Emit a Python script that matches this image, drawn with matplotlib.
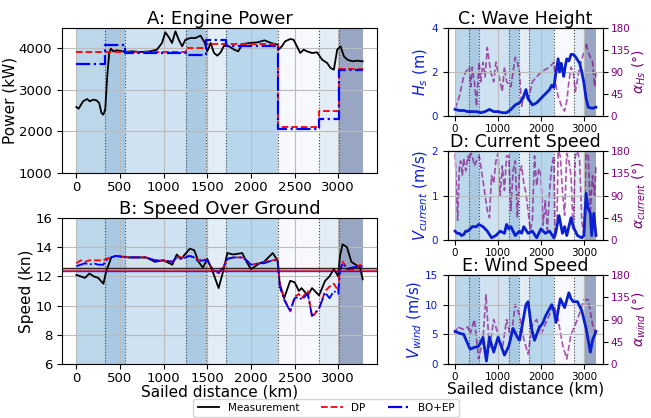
import matplotlib
matplotlib.use("Agg")
import matplotlib.pyplot as plt
import numpy as np

# Leg boundaries (km) and background shade per leg
bounds = [0, 325, 555, 1255, 1490, 1715, 2305, 2775, 3005, 3280]
leg_colors = ["#bcd6ea", "#a9c9e2", "#cfe2f1", "#aacbe3", "#e3edf7",
              "#b9d7ec", "#f8f9fe", "#e3edf6", "#98a6c3"]

# Engine power (kW)
pow_x = [0, 27, 77, 123, 154, 192, 231, 262, 288, 308, 331, 354, 377, 396, 423, 462,
         560, 654, 731, 846, 923, 981, 1019, 1058, 1096, 1135, 1173, 1212, 1250, 1308,
         1365, 1423, 1469, 1500, 1538, 1577, 1615, 1654, 1692, 1750, 1808, 1854, 1904,
         1981, 2077, 2154, 2231, 2308, 2315, 2354, 2392, 2450, 2488, 2527, 2565, 2604,
         2642, 2700, 2758, 2815, 2873, 2912, 2950, 2988, 3027, 3065, 3104, 3162, 3219, 3280]
pow_meas = [2584, 2544, 2720, 2776, 2720, 2760, 2744, 2680, 2440, 2400, 2520, 3320, 3880,
            3984, 3920, 3944, 3910, 3920, 3904, 3920, 3960, 4120, 4376, 4264, 4120, 4400,
            4200, 4040, 4200, 4240, 4240, 4296, 4136, 3920, 4120, 3880, 3816, 3896, 4056,
            4040, 3960, 3920, 4096, 4120, 4136, 4184, 4120, 4080, 3960, 4040, 4160, 4216,
            4200, 4040, 3880, 3960, 3920, 3880, 3896, 3720, 3640, 3520, 3480, 3960, 4040,
            3800, 3720, 3680, 3696, 3680]
pow_dp = [3900, 3900, 3900, 4000, 4100, 4100, 2100, 2500, 3500]
pow_bo = [3620, 4080, 3880, 3840, 4200, 4050, 2060, 2300, 3480]

# Speed over ground (kn)
sog_x = [0, 50, 100, 150, 200, 250, 310, 340, 400, 450, 600, 800, 900, 1000, 1100, 1150,
         1200, 1300, 1350, 1400, 1450, 1500, 1570, 1630, 1680, 1730, 1800, 1900, 1950,
         2000, 2100, 2150, 2250, 2305, 2330, 2380, 2450, 2500, 2550, 2580, 2650, 2700,
         2780, 2850, 2900, 2950, 3000, 3020, 3050, 3100, 3150, 3250, 3280]
sog_meas = [12.1, 12.0, 11.9, 12.2, 12.0, 11.9, 11.5, 12.3, 13.3, 13.4, 13.3, 13.3, 13.0,
            13.1, 12.8, 13.5, 13.2, 13.9, 13.8, 13.0, 12.6, 13.2, 12.2, 11.2, 12.3, 13.6,
            13.5, 13.6, 13.0, 12.5, 12.9, 13.0, 13.6, 13.1, 11.5, 10.5, 11.7, 11.6, 11.0,
            11.2, 10.7, 11.2, 10.7, 11.7, 12.0, 12.5, 12.0, 13.4, 14.2, 14.0, 13.0, 12.6, 11.8]
sog_dp = [12.9, 13.1, 13.0, 13.1, 13.1, 13.1, 13.1, 13.2, 13.3, 13.4, 13.3, 13.3, 13.1,
          13.1, 13.0, 13.3, 13.3, 13.4, 13.3, 13.1, 13.2, 13.1, 12.4, 12.2, 12.6, 13.2,
          13.3, 13.3, 13.1, 12.8, 12.9, 13.0, 13.1, 13.2, 11.5, 10.5, 9.6, 10.6, 10.8,
          10.5, 11.0, 9.2, 9.8, 11.0, 11.3, 11.5, 11.0, 12.6, 13.0, 12.6, 12.4, 12.8, 12.5]
sog_bo = [12.7, 12.8, 12.9, 12.8, 12.9, 12.8, 12.8, 13.1, 13.3, 13.4, 13.3, 13.3, 13.1,
          13.1, 13.0, 13.3, 13.2, 13.4, 13.3, 13.0, 13.1, 13.1, 12.4, 12.3, 12.6, 13.2,
          13.3, 13.3, 13.1, 12.8, 12.9, 12.9, 13.1, 13.1, 11.3, 10.4, 9.6, 10.5, 10.6,
          10.4, 10.8, 9.3, 9.8, 10.9, 10.5, 11.0, 10.8, 12.4, 12.9, 12.5, 12.6, 12.7, 12.7]
mean_meas, mean_dp, mean_bo = 12.57, 12.47, 12.38

# Wave height
hs_x = [0, 100, 200, 300, 400, 500, 600, 700, 800, 900, 1000, 1100, 1200, 1300, 1400,
        1500, 1580, 1650, 1700, 1800, 1900, 2000, 2100, 2200, 2250, 2300, 2350, 2400,
        2430, 2470, 2500, 2530, 2560, 2600, 2650, 2700, 2750, 2800, 2900, 2950, 3000,
        3050, 3100, 3200, 3280]
hs = [0.3, 0.25, 0.25, 0.2, 0.2, 0.2, 0.15, 0.2, 0.3, 0.2, 0.2, 0.15, 0.15, 0.3, 0.5,
      0.6, 0.8, 1.2, 0.8, 0.5, 0.6, 0.8, 1.0, 1.2, 1.4, 1.3, 2.0, 2.6, 2.0, 2.4, 2.1,
      1.8, 2.2, 2.6, 2.5, 2.8, 2.8, 2.7, 2.4, 2.0, 1.5, 0.8, 0.4, 0.35, 0.4]
ahs_x = [0, 100, 200, 250, 330, 370, 400, 450, 500, 560, 600, 650, 700, 750, 830, 900,
         950, 1000, 1100, 1150, 1200, 1300, 1400, 1450, 1500, 1550, 1600, 1650, 1700,
         1800, 1900, 2000, 2100, 2200, 2300, 2350, 2400, 2480, 2550, 2600, 2650, 2700,
         2750, 2800, 2900, 3000, 3050, 3100, 3200, 3250, 3280]
ahs = [15, 40, 80, 90, 100, 60, 100, 70, 20, 110, 70, 110, 80, 140, 90, 70, 110, 90, 50,
       100, 70, 60, 120, 110, 90, 20, 40, 50, 30, 70, 80, 90, 95, 100, 110, 60, 40, 20, 10,
       30, 70, 100, 90, 50, 100, 130, 150, 130, 110, 60, 90]

# Current speed
cur_x = [0, 50, 100, 150, 200, 250, 300, 400, 500, 550, 650, 750, 850, 950, 1050, 1150,
         1200, 1250, 1300, 1350, 1400, 1500, 1550, 1600, 1700, 1800, 1900, 2000, 2100,
         2200, 2300, 2350, 2420, 2500, 2550, 2600, 2700, 2750, 2850, 2950, 3000, 3050,
         3100, 3150, 3180, 3230, 3280]
cur = [0.2, 0.15, 0.15, 0.1, 0.12, 0.2, 0.2, 0.3, 0.3, 0.35, 0.3, 0.2, 0.05, 0.1, 0.2,
       0.15, 0.35, 0.25, 0.3, 0.2, 0.1, 0.2, 0.15, 0.3, 0.15, 0.2, 0.05, 0.25, 0.15, 0.2,
       0.05, 0.2, 0.55, 0.15, 0.3, 0.1, 0.5, 0.3, 0.1, 0.05, 0.1, 1.05, 0.7, 0.6, 0.1,
       0.6, 0.1]
acur_x = [0, 30, 60, 100, 130, 170, 200, 250, 300, 330, 370, 400, 450, 500, 560, 600,
          650, 700, 750, 800, 850, 900, 950, 1000, 1050, 1100, 1150, 1200, 1250, 1300,
          1350, 1400, 1450, 1500, 1550, 1600, 1650, 1700, 1750, 1800, 1850, 1900, 1950,
          2000, 2050, 2100, 2150, 2200, 2250, 2300, 2330, 2370, 2400, 2450, 2500, 2550,
          2600, 2650, 2700, 2750, 2800, 2850, 2900, 2950, 3000, 3050, 3100, 3150, 3200,
          3250, 3280]
acur = [175, 110, 40, 150, 160, 130, 165, 140, 170, 160, 175, 170, 150, 160, 170, 150,
        120, 90, 60, 45, 130, 115, 160, 175, 90, 150, 100, 170, 170, 60, 140, 160, 45,
        135, 150, 115, 95, 60, 20, 40, 170, 110, 145, 130, 30, 80, 20, 100, 150, 170, 5,
        20, 180, 170, 100, 50, 175, 160, 130, 20, 170, 180, 160, 40, 10, 175, 170, 60,
        130, 90, 150]

# Wind speed
wind_x = [0, 100, 200, 350, 450, 550, 650, 730, 800, 900, 1000, 1050, 1150, 1250, 1350,
          1450, 1500, 1600, 1650, 1700, 1780, 1850, 1950, 2050, 2100, 2250, 2300, 2350,
          2450, 2550, 2650, 2700, 2750, 2850, 2950, 3050, 3150, 3200, 3280]
wind = [5.5, 5.2, 5.0, 2.5, 2.8, 3.0, 4.5, 0.5, 4.5, 2.0, 4.5, 3.5, 1.5, 3.0, 6.0, 4.5,
        4.0, 8.0, 10.0, 10.5, 6.0, 4.0, 6.0, 7.0, 8.0, 10.0, 9.0, 7.0, 11.0, 9.5, 12.0,
        11.0, 10.5, 10.5, 9.0, 6.0, 2.0, 4.0, 5.5]
awind_x = [0, 50, 200, 300, 350, 450, 550, 650, 720, 800, 900, 1000, 1100, 1200, 1300,
           1400, 1500, 1600, 1700, 1800, 1900, 2000, 2100, 2200, 2300, 2400, 2500, 2600,
           2700, 2850, 3000, 3100, 3200, 3280]
awind = [60, 75, 70, 75, 60, 90, 10, 50, 140, 30, 90, 60, 30, 90, 50, 120, 100, 50, 20,
         80, 90, 60, 80, 100, 120, 90, 40, 10, 60, 90, 130, 130, 80, 60]

BLUE = "#0a1fd0"
PURP = "purple"
XLIM = (-164, 3444)


def shade(ax):
    for i in range(len(bounds) - 1):
        ax.axvspan(bounds[i], bounds[i + 1], color=leg_colors[i], lw=0, zorder=0)
    for b in bounds[1:-1]:
        ax.axvline(b, color="#444444", ls=":", lw=0.8, zorder=1)


fig = plt.figure(figsize=(6.51, 4.18), dpi=100)
W, H = 651, 418


def rect(l, t, r, b):
    return [l / W, 1 - b / H, (r - l) / W, (b - t) / H]


# A: engine power
axA = fig.add_axes(rect(62, 28, 377, 173))
shade(axA)
axA.grid(True, color="#bbbbbb", lw=0.8)
hm, = axA.plot(pow_x, pow_meas, color="black", lw=1.3, label="Measurement")
hd, = axA.step(bounds, pow_dp + [pow_dp[-1]], where="post", color="red", ls="--", lw=1.3, label="DP")
hb, = axA.step(bounds, pow_bo + [pow_bo[-1]], where="post", color="blue", ls="-.", lw=1.6, label="BO+EP")
axA.set_ylim(1000, 4480)
axA.set_yticks([1000, 2000, 3000, 4000])
axA.set_ylabel("Power (kW)", fontsize=11, labelpad=1)
axA.set_title("A: Engine Power", fontsize=13, pad=3)

# B: speed over ground
axB = fig.add_axes(rect(62, 218, 377, 364))
shade(axB)
axB.grid(True, color="#bbbbbb", lw=0.8)
axB.plot(sog_x, sog_meas, color="black", lw=1.3)
axB.plot(sog_x, sog_dp, color="red", ls="--", lw=1.3)
axB.plot(sog_x, sog_bo, color="blue", ls="-.", lw=1.3)
axB.axhspan(mean_bo, mean_meas, color="#f0a0a0", alpha=0.6, lw=0)
axB.axhline(mean_meas, color="black", lw=1.0, alpha=0.8)
axB.axhline(mean_dp, color="red", lw=1.0, alpha=0.6)
axB.axhline(mean_bo, color="blue", lw=1.0, alpha=0.8)
axB.set_ylim(6, 16)
axB.set_yticks([6, 8, 10, 12, 14, 16])
axB.set_ylabel("Speed (kn)", fontsize=11, labelpad=1)
axB.set_xlabel("Sailed distance (km)", fontsize=11, labelpad=0)
axB.set_title("B: Speed Over Ground", fontsize=13, pad=3)

for a in (axA, axB):
    a.set_xlim(*XLIM)
    a.set_xticks([0, 500, 1000, 1500, 2000, 2500, 3000])
    a.tick_params(labelsize=9.5)
    a.tick_params(axis="x", pad=2)

# right-hand panels
panels = [
    (rect(448, 28, 603, 116), "C: Wave Height", hs_x, hs, ahs_x, ahs, (0, 4), [0, 2, 4],
     "$H_s$ (m)", r"$\alpha_{Hs}$ (°)"),
    (rect(448, 151, 603, 240), "D: Current Speed", cur_x, cur, acur_x, acur, (0, 2), [0, 1, 2],
     "$V_{current}$ (m/s)", r"$\alpha_{current}$ (°)"),
    (rect(448, 275, 603, 364), "E: Wind Speed", wind_x, wind, awind_x, awind, (0, 15), [0, 5, 10, 15],
     "$V_{wind}$ (m/s)", r"$\alpha_{wind}$ (°)"),
]
for i, (r, title, x, y, xa, ya, ylim, yt, yl, yl2) in enumerate(panels):
    ax = fig.add_axes(r)
    ax2 = ax.twinx()
    # angle axis sits underneath and carries the leg shading
    shade(ax2)
    ax2.plot(xa, ya, color=PURP, ls="--", lw=1.2, alpha=0.65, zorder=2)
    ax.set_zorder(ax2.get_zorder() + 1)
    ax.patch.set_visible(False)
    ax.grid(True, color="#bbbbbb", lw=0.8)
    ax.plot(x, y, color=BLUE, lw=2.0, zorder=5)
    ax.set_ylim(*ylim)
    ax.set_yticks(yt)
    ax.set_xlim(*XLIM)
    ax.set_xticks([0, 1000, 2000, 3000])
    ax2.set_ylim(0, 180)
    ax2.set_yticks([0, 45, 90, 135, 180])
    ax.set_ylabel(yl, color=BLUE, fontsize=10.5, labelpad=1)
    ax2.set_ylabel(yl2, color=PURP, fontsize=10, labelpad=0)
    ax.tick_params(axis="y", labelcolor=BLUE, labelsize=7.5)
    ax.tick_params(axis="x", labelsize=7.5, pad=2)
    ax2.tick_params(axis="y", labelcolor=PURP, labelsize=7.5, pad=2)
    ax.set_title(title, fontsize=12.5, pad=1)
    if i == 2:
        ax.set_xlabel("Sailed distance (km)", fontsize=11, labelpad=0)

fig.legend(handles=[hm, hd, hb], loc="center", bbox_to_anchor=(326 / W, 1 - 408 / H),
           ncol=3, fontsize=7.5, handlelength=2.1, columnspacing=2.1, handletextpad=0.8,
           borderpad=0.4)

fig.savefig("out.png", dpi=100)
